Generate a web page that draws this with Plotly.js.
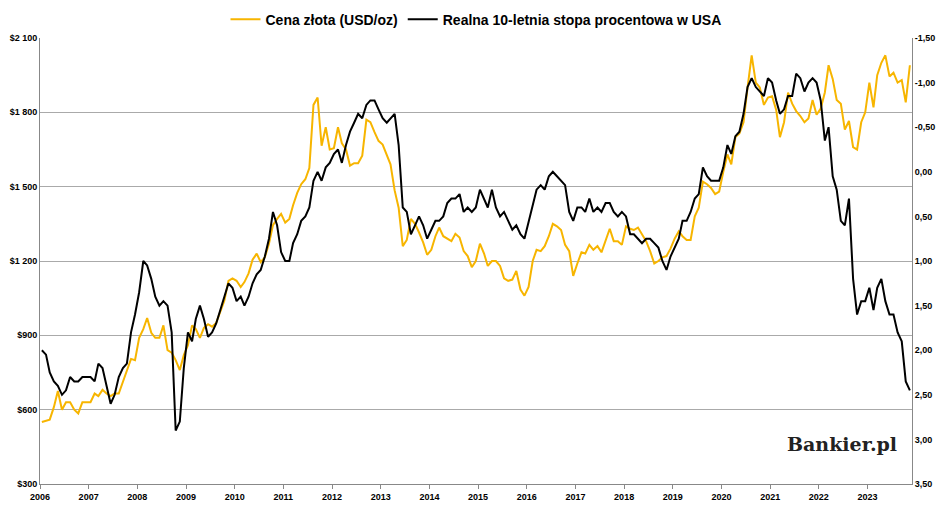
<!DOCTYPE html>
<html><head><meta charset="utf-8">
<script src="https://cdn.plot.ly/plotly-3.0.1.min.js"></script>
<style>body{margin:0;background:#fff}#c{width:948px;height:507px}</style>
</head><body><div id="c"></div>
<script>
const startYear = 2006;
const gold = [
550,555,560,610,675,600,630,630,600,585,630,630,
630,665,655,680,665,655,665,665,710,755,805,800,
890,925,970,910,890,890,940,840,830,800,760,820,
860,940,925,890,930,945,935,950,995,1040,1120,1130,
1120,1095,1115,1150,1205,1230,1195,1215,1270,1345,1370,1390,
1355,1370,1425,1475,1510,1530,1575,1830,1860,1665,1740,1650,
1655,1740,1675,1650,1585,1595,1595,1625,1770,1760,1720,1685,
1670,1630,1590,1485,1415,1260,1285,1370,1350,1315,1275,1225,
1245,1300,1335,1300,1290,1280,1310,1295,1240,1220,1175,1200,
1270,1230,1180,1200,1200,1180,1130,1120,1125,1160,1085,1060,
1095,1200,1245,1240,1260,1300,1350,1340,1325,1265,1240,1140,
1190,1235,1230,1265,1245,1260,1235,1285,1330,1280,1280,1265,
1340,1330,1325,1335,1305,1280,1240,1190,1200,1215,1220,1250,
1290,1320,1300,1285,1285,1380,1415,1520,1510,1495,1470,1480,
1560,1630,1590,1700,1715,1760,1900,2030,1920,1900,1830,1860,
1865,1810,1700,1760,1880,1835,1805,1785,1760,1775,1850,1790,
1815,1880,1990,1935,1850,1835,1730,1765,1660,1650,1760,1800,
1920,1820,1950,2000,2030,1945,1960,1920,1930,1840,1990];
const realRate = [
2.0,2.05,2.25,2.35,2.4,2.5,2.45,2.3,2.35,2.35,2.3,2.3,
2.3,2.35,2.15,2.2,2.4,2.6,2.5,2.3,2.2,2.15,1.8,1.6,
1.35,1.0,1.05,1.2,1.4,1.5,1.45,1.5,1.8,2.9,2.8,2.2,
1.8,1.9,1.65,1.5,1.65,1.85,1.8,1.7,1.55,1.4,1.25,1.3,
1.45,1.4,1.5,1.4,1.25,1.15,1.1,0.95,0.75,0.45,0.6,0.9,
1.0,1.0,0.8,0.7,0.55,0.5,0.4,0.1,0.0,0.1,-0.05,-0.1,
-0.2,-0.25,-0.1,-0.3,-0.45,-0.55,-0.65,-0.6,-0.75,-0.8,-0.8,-0.7,
-0.6,-0.55,-0.6,-0.65,-0.3,0.4,0.45,0.7,0.6,0.5,0.6,0.75,
0.65,0.55,0.55,0.5,0.35,0.3,0.3,0.25,0.45,0.4,0.45,0.4,
0.2,0.3,0.4,0.2,0.4,0.5,0.45,0.55,0.65,0.6,0.7,0.75,
0.55,0.35,0.2,0.15,0.2,0.05,0.0,0.05,0.1,0.15,0.45,0.55,
0.4,0.4,0.45,0.3,0.45,0.4,0.45,0.35,0.35,0.45,0.5,0.45,
0.5,0.7,0.7,0.75,0.8,0.75,0.75,0.8,0.85,1.0,1.1,0.95,
0.85,0.75,0.55,0.55,0.45,0.3,0.25,-0.05,0.05,0.1,0.1,0.1,
-0.05,-0.3,-0.2,-0.4,-0.45,-0.65,-0.95,-1.05,-0.95,-0.9,-0.85,-1.05,
-1.0,-0.8,-0.65,-0.7,-0.85,-0.85,-1.1,-1.05,-0.9,-1.0,-1.05,-1.0,
-0.8,-0.35,-0.5,0.05,0.2,0.55,0.6,0.3,1.2,1.6,1.45,1.45,
1.3,1.55,1.3,1.2,1.45,1.6,1.6,1.8,1.9,2.35,2.45];
const leftTicks = [300,600,900,1200,1500,1800,2100];
const leftLabels = ['$300','$600','$900','$1 200','$1 500','$1 800','$2 100'];
const rightTicks = [-1.5,-1,-0.5,0,0.5,1,1.5,2,2.5,3,3.5];
const rightLabels = ['-1,50','-1,00','-0,50','0,00','0,50','1,00','1,50','2,00','2,50','3,00','3,50'];
const years = [];for(let y=2006;y<=2023;y++)years.push(y);

const dates = gold.map((_,i)=>{const y=startYear+Math.floor(i/12),m=i%12+1;return y+'-'+String(m).padStart(2,'0')+'-15';});
const F = 'Liberation Sans, Arial, sans-serif';
Plotly.newPlot('c',[
 {x:dates,y:gold,name:'Cena złota (USD/oz)',type:'scatter',mode:'lines',line:{color:'#F7B500',width:2}},
 {x:dates,y:realRate,name:'Realna 10-letnia stopa procentowa w USA',yaxis:'y2',type:'scatter',mode:'lines',line:{color:'#000',width:2}}
],{
 width:948,height:507,margin:{l:40,r:36,t:38,b:23,autoexpand:false},
 paper_bgcolor:'#fff',plot_bgcolor:'#fff',
 font:{family:F,size:9,color:'#000'},
 showlegend:true,
 legend:{orientation:'h',x:0.5,xanchor:'center',y:1.005,yanchor:'bottom',font:{family:F,size:14,color:'#000',weight:'bold'}},
 xaxis:{type:'date',range:['2006-01-01','2023-12-01'],tickvals:years.map(y=>y+'-01-01'),ticktext:years.map(String),
   showgrid:false,showline:true,linecolor:'#888',ticks:'outside',ticklen:4,tickcolor:'#888',tickfont:{family:F,size:9,weight:'bold'}},
 yaxis:{range:[300,2100],tickvals:leftTicks,ticktext:leftLabels,gridcolor:'#aaa',showline:true,linecolor:'#888',zeroline:false,tickfont:{family:F,size:9,weight:'bold'}},
 yaxis2:{overlaying:'y',side:'right',range:[3.5,-1.5],tickvals:rightTicks,ticktext:rightLabels,showgrid:false,zeroline:false,showline:true,linecolor:'#888',tickfont:{family:F,size:9,weight:'bold'}},
 annotations:[{xref:'paper',yref:'paper',x:0.985,y:0.06,xanchor:'right',yanchor:'bottom',showarrow:false,
   text:'<b>Bankier.pl</b>',font:{family:'DejaVu Serif, serif',size:19,color:'#222'}}]
},{displayModeBar:false});
</script></body></html>
